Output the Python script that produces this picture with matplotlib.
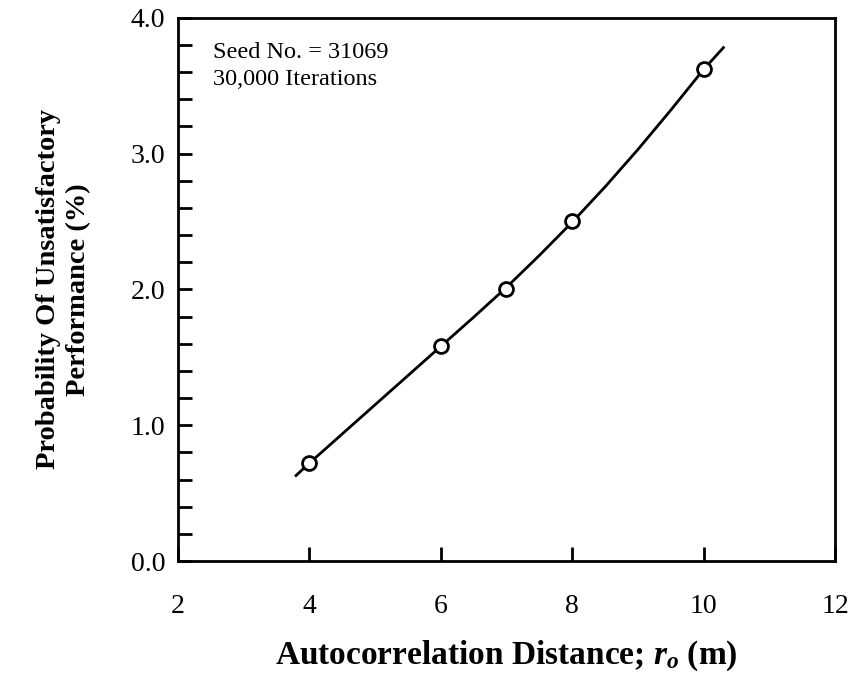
import matplotlib
matplotlib.use("Agg")
import matplotlib.pyplot as plt
from matplotlib.ticker import MultipleLocator

# simulated results
distance = [4, 6, 7, 8, 10]
prob_fail = [0.72, 1.58, 2.0, 2.5, 3.62]

# smooth trend line drawn through the results
curve_x = [3.8, 4.0, 4.5, 5.0, 5.5, 6.0, 6.5, 7.0, 7.5, 8.0, 8.5, 9.0, 9.5, 10.0, 10.3]
curve_y = [0.63, 0.72, 0.935, 1.15, 1.365, 1.58, 1.795, 2.015, 2.25, 2.495, 2.755, 3.03, 3.32, 3.62, 3.78]

x_ticks = [2, 4, 6, 8, 10, 12]
y_ticks = [0.0, 1.0, 2.0, 3.0, 4.0]

plt.rcParams["font.family"] = ["Liberation Serif", "DejaVu Serif"]
plt.rcParams["mathtext.fontset"] = "custom"
plt.rcParams["mathtext.rm"] = "Liberation Serif:bold"
plt.rcParams["mathtext.it"] = "Liberation Serif:italic:bold"

fig = plt.figure(figsize=(8.54, 6.81), dpi=100)
ax = fig.add_axes([0.208, 0.176, 0.77, 0.798])

ax.plot(curve_x, curve_y, color="black", lw=2, zorder=2)
ax.plot(distance, prob_fail, "o", ms=10, mfc="white", mec="black", mew=2, zorder=3)

ax.set_xlim(2, 12)
ax.set_ylim(0, 4)
ax.set_xticks(x_ticks)
ax.set_yticks(y_ticks)
ax.set_yticklabels([f"{v:.1f}" for v in y_ticks])
ax.yaxis.set_minor_locator(MultipleLocator(0.2))

ax.tick_params(axis="both", which="both", direction="in", labelsize=20, width=2)
ax.tick_params(axis="both", which="major", length=10)
ax.tick_params(axis="x", which="major", pad=24)
ax.tick_params(axis="y", which="major", pad=9)
ax.tick_params(axis="y", which="minor", length=10)
for s in ax.spines.values():
    s.set_linewidth(2)

ax.set_xlabel(r"Autocorrelation Distance; $r_o$ (m)", fontsize=24,
              fontweight="bold", labelpad=14)
ax.set_ylabel("Probability Of Unsatisfactory\nPerformance (%)", fontsize=20.5,
              fontweight="bold", labelpad=28, linespacing=1.3)

ax.text(0.054, 0.955, "Seed No. = 31069\n30,000 Iterations", transform=ax.transAxes,
        fontsize=17.5, va="top", ha="left", linespacing=1.35)

fig.savefig("out.png", dpi=100)
